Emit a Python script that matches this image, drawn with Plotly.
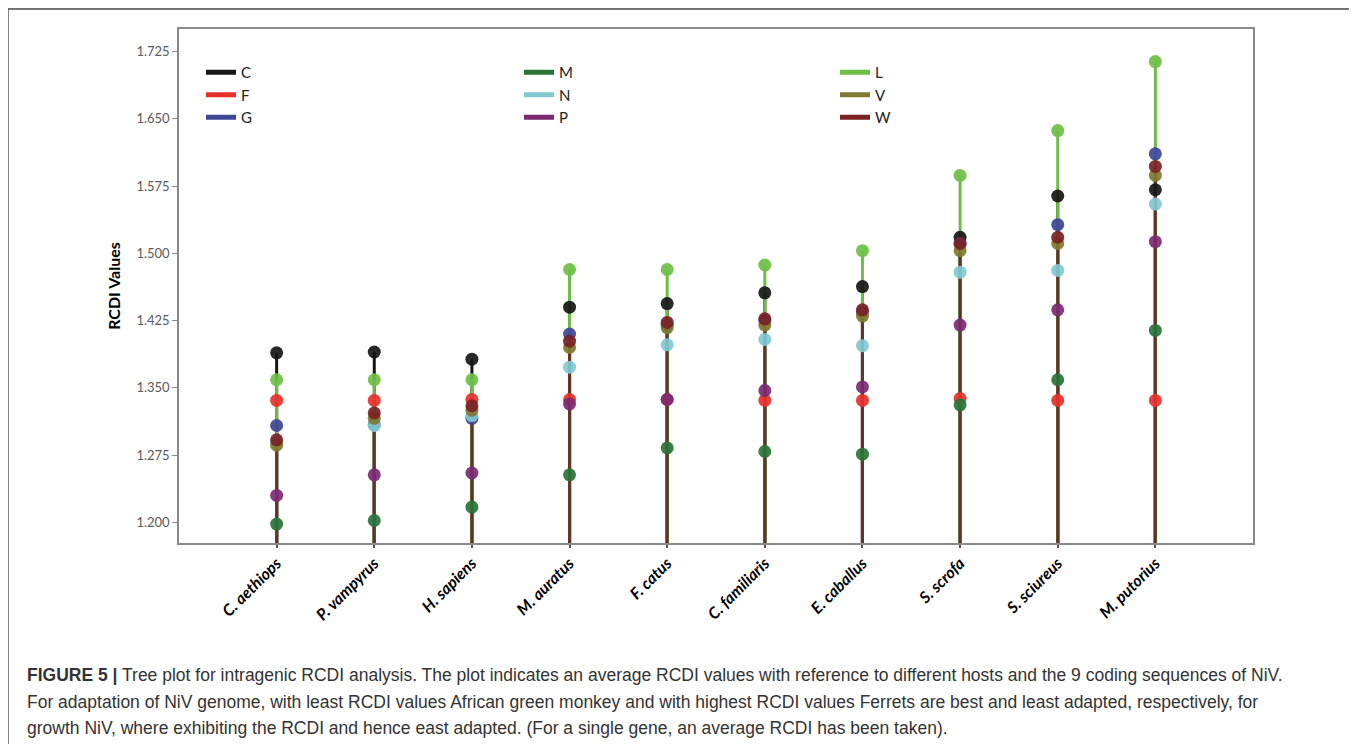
import plotly.graph_objects as go

# ---------------- data ----------------
hosts = ["C. aethiops", "P. vampyrus", "H. sapiens", "M. auratus", "F. catus",
         "C. familiaris", "E. caballus", "S. scrofa", "S. sciureus", "M. putorius"]

C = [1.389, 1.390, 1.382, 1.440, 1.444, 1.456, 1.463, 1.518, 1.564, 1.571]
F = [1.336, 1.336, 1.337, 1.337, 1.337, 1.336, 1.336, 1.338, 1.336, 1.336]
G = [1.308, 1.309, 1.316, 1.410, 1.420, 1.425, 1.435, 1.511, 1.532, 1.611]
M = [1.198, 1.202, 1.217, 1.253, 1.283, 1.279, 1.276, 1.331, 1.359, 1.414]
N = [1.289, 1.308, 1.319, 1.373, 1.398, 1.404, 1.397, 1.479, 1.481, 1.555]
P = [1.230, 1.253, 1.255, 1.332, 1.337, 1.347, 1.351, 1.420, 1.437, 1.513]
L = [1.359, 1.359, 1.359, 1.482, 1.482, 1.487, 1.503, 1.587, 1.637, 1.714]
V = [1.286, 1.316, 1.325, 1.395, 1.417, 1.420, 1.430, 1.503, 1.511, 1.587]
W = [1.292, 1.322, 1.330, 1.402, 1.423, 1.427, 1.437, 1.511, 1.518, 1.597]

series = {"C": C, "F": F, "G": G, "M": M, "N": N, "P": P, "L": L, "V": V, "W": W}

y_ticks = [1.200, 1.275, 1.350, 1.425, 1.500, 1.575, 1.650, 1.725]

caption_lines = [
    "<b>FIGURE 5 |</b> Tree plot for intragenic RCDI analysis. The plot indicates an average RCDI values with reference to different hosts and the 9 coding sequences of NiV.",
    "For adaptation of NiV genome, with least RCDI values African green monkey and with highest RCDI values Ferrets are best and least adapted, respectively, for",
    "growth NiV, where exhibiting the RCDI and hence east adapted. (For a single gene, an average RCDI has been taken).",
]

# ---------------- styles ----------------
marker_colors = {"C": "#161616", "F": "#e8302a", "G": "#3e4597", "M": "#2a7438",
                 "N": "#80c9d3", "P": "#7b2a72", "L": "#6bbf44", "V": "#7f7a30",
                 "W": "#7a2224"}
stem_colors = dict(marker_colors)
stem_colors["W"] = "#623428"

draw_order = ["C", "F", "G", "M", "N", "P", "V", "L", "W"]
legend_cols = {"legend": ["C", "F", "G"], "legend2": ["M", "N", "P"], "legend3": ["L", "V", "W"]}

Y_MIN, Y_MAX = 1.1769, 1.7503
BASE = 1.0  # stems start below the axis bottom and are clipped by the plot area

fig = go.Figure()

# stems
for key in draw_order:
    xs, ys = [], []
    for h, v in zip(hosts, series[key]):
        xs += [h, h, None]
        ys += [BASE, v, None]
    fig.add_trace(go.Scatter(x=xs, y=ys, mode="lines",
                             line=dict(color=stem_colors[key], width=3),
                             showlegend=False, hoverinfo="skip"))

# markers
for key in draw_order:
    fig.add_trace(go.Scatter(x=hosts, y=series[key], mode="markers", name=key,
                             marker=dict(color=marker_colors[key], size=13, opacity=0.92,
                                         line=dict(width=0)),
                             showlegend=False))

# legend entries (three columns)
for leg, keys in legend_cols.items():
    for key in keys:
        fig.add_trace(go.Scatter(x=[None], y=[None], mode="lines", name=key,
                                 line=dict(color=marker_colors[key], width=5),
                                 legend=leg, showlegend=True))

# figure is placed at (8,8) in the page; coordinates below are figure pixels
FW, FH = 1349, 736
PL, PR, PT, PB = 171, 1245, 21, 535
PW, PH = PR - PL, PB - PT


def px_x(px):
    return (px - PL) / PW


def px_y(py):
    return (PB - py) / PH


leg_common = dict(bgcolor="rgba(0,0,0,0)", borderwidth=0, orientation="v",
                  xanchor="left", yanchor="top", tracegroupgap=0,
                  font=dict(family="Lato, sans-serif", size=15, color="#222222"))

annotations = []
for line, py in zip(caption_lines, [667, 694, 720]):
    annotations.append(dict(text=line, xref="paper", yref="paper",
                            x=px_x(17), y=px_y(py), xanchor="left", yanchor="middle",
                            showarrow=False, align="left",
                            font=dict(family="Liberation Sans, Arial, sans-serif",
                                      size=17.5, color="#333333")))

fig.update_layout(
    width=FW, height=FH,
    margin=dict(l=PL, r=FW - PR, t=PT, b=FH - PB),
    paper_bgcolor="white", plot_bgcolor="white",
    showlegend=True,
    legend=dict(x=px_x(193), y=px_y(48), **leg_common),
    legend2=dict(x=px_x(511), y=px_y(48), **leg_common),
    legend3=dict(x=px_x(827), y=px_y(48), **leg_common),
    xaxis=dict(type="category", categoryorder="array", categoryarray=hosts,
               range=[-1, 10], showgrid=False, zeroline=False,
               showline=True, mirror=True, linecolor="#8a8a8a", linewidth=1.5,
               ticks="outside", ticklen=3, tickcolor="#6a4a40", tickwidth=1.5,
               tickangle=-45,
               tickfont=dict(family="Lato, sans-serif", size=16, color="#000000",
                             weight="bold", style="italic")),
    yaxis=dict(range=[Y_MIN, Y_MAX], tickvals=y_ticks,
               ticktext=[f"{v:.3f}" for v in y_ticks],
               showgrid=False, zeroline=False,
               showline=True, mirror=True, linecolor="#8a8a8a", linewidth=1.5,
               ticks="outside", ticklen=5, tickcolor="#8a8a8a",
               tickfont=dict(family="Lato, sans-serif", size=13, color="#5a5a5a"),
               title=dict(text="<b>RCDI Values</b>", standoff=12,
                          font=dict(family="Lato, sans-serif", size=16, color="#000000"))),
    shapes=[dict(type="rect", xref="paper", yref="paper",
                 x0=px_x(0), x1=px_x(1345), y0=px_y(760), y1=px_y(1),
                 line=dict(color="#444444", width=1.3), layer="below")],
    annotations=annotations,
)

fig.write_html("out.html")
